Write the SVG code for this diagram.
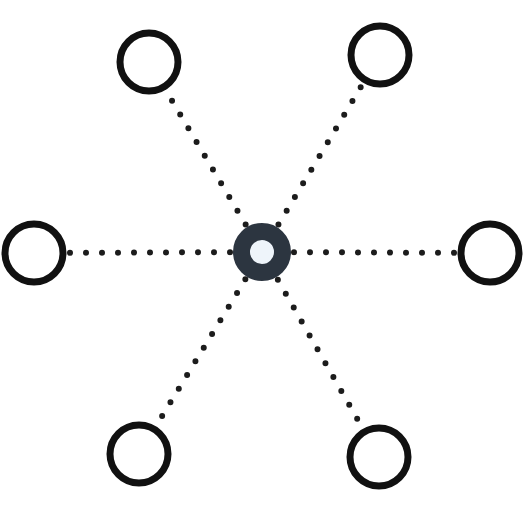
<svg xmlns="http://www.w3.org/2000/svg" width="532" height="510" viewBox="0 0 532 510">
<style>
.edge{stroke:#1c1c1c;stroke-width:6;stroke-linecap:round;stroke-dasharray:0 16;fill:none}
.leaf{fill:#ffffff;stroke:#111111;stroke-width:7}
.hub{fill:#eef4fa;stroke:#2c3540;stroke-width:17}
</style>
<rect width="532" height="510" fill="#ffffff"/>
<g id="connectors">
<line class="edge" x1="262" y1="252" x2="149" y2="62"/>
<line class="edge" x1="262" y1="252" x2="380" y2="55"/>
<line class="edge" x1="262" y1="252" x2="34" y2="253"/>
<line class="edge" x1="262" y1="252" x2="490" y2="253"/>
<line class="edge" x1="262" y1="252" x2="139" y2="454"/>
<line class="edge" x1="262" y1="252" x2="379" y2="457"/>
</g>
<g id="node-top-left"><circle class="leaf" cx="149" cy="62" r="29"/></g>
<g id="node-top-right"><circle class="leaf" cx="380" cy="55" r="29"/></g>
<g id="node-left"><circle class="leaf" cx="34" cy="253" r="29"/></g>
<g id="node-right"><circle class="leaf" cx="490" cy="253" r="29"/></g>
<g id="node-bottom-left"><circle class="leaf" cx="139" cy="454" r="29"/></g>
<g id="node-bottom-right"><circle class="leaf" cx="379" cy="457" r="29"/></g>
<g id="node-center"><circle class="hub" cx="262" cy="252" r="20.5"/></g>
</svg>
